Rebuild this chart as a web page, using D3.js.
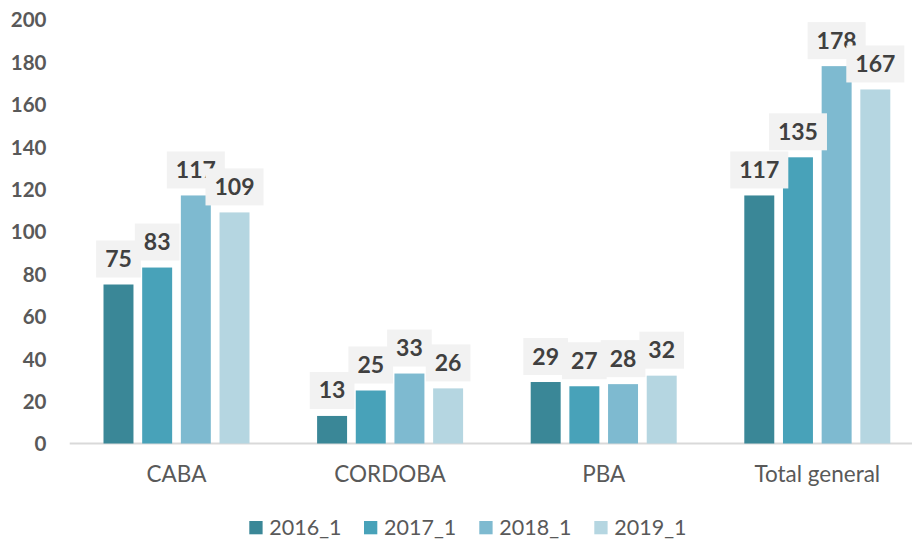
<!doctype html>
<html>
<head>
<meta charset="utf-8">
<title>chart</title>
<script src="https://cdn.jsdelivr.net/npm/d3@7"></script>
<style>
  body { margin: 0; background: #fff; }
  text { font-family: Lato, "Open Sans", sans-serif; }
</style>
</head>
<body>
<script>
// categories and series
const categories = ["CABA", "CORDOBA", "PBA", "Total general"];
const seriesNames = ["2016_1", "2017_1", "2018_1", "2019_1"];
const v2016 = [75, 13, 29, 117];
const v2017 = [83, 25, 27, 135];
const v2018 = [117, 33, 28, 178];
const v2019 = [109, 26, 32, 167];
const seriesValues = [v2016, v2017, v2018, v2019];
const yTicks = [0, 20, 40, 60, 80, 100, 120, 140, 160, 180, 200];
const colors = ["#3a8797", "#48a2b9", "#7ebad0", "#b5d6e1"];

const w = 912, h = 539;

const svg = d3.select("body").append("svg")
  .attr("width", w)
  .attr("height", h);

const x0 = d3.scaleBand()
  .domain(categories)
  .range([69.7, 924.1]);

const y = d3.scaleLinear()
  .domain([0, 200])
  .range([443.5, 19.5]);

// bars inside a group
const x1 = d3.scaleBand()
  .domain(seriesNames)
  .range([x0.bandwidth() / 2 - 73, x0.bandwidth() / 2 + 73])
  .paddingInner(0.225);

// y axis labels (no line)
const yAxis = svg.append("g")
  .attr("transform", "translate(46.5,0)")
  .call(d3.axisLeft(y).tickValues(yTicks).tickSize(0).tickPadding(0));
yAxis.select(".domain").remove();
yAxis.selectAll("text")
  .attr("fill", "#595959")
  .style("font-size", "20.5px")
  .style("font-weight", "bold")
  .attr("dy", "0.36em");

// x axis
const xAxis = svg.append("g")
  .attr("transform", "translate(0,443.5)")
  .call(d3.axisBottom(x0).tickSize(0).tickPadding(0));
xAxis.select(".domain").remove();
xAxis.append("line")
  .attr("x1", 69.7).attr("x2", w)
  .attr("y1", 0).attr("y2", 0)
  .attr("stroke", "#d9d9d9")
  .attr("stroke-width", 2);
xAxis.selectAll("text")
  .attr("fill", "#595959")
  .attr("y", 38.5)
  .attr("dy", 0)
  .style("font-size", "22.5px");

const rows = [];
seriesValues.forEach((vals, s) => {
  vals.forEach((v, c) => rows.push({ s: seriesNames[s], si: s, cat: categories[c], v: v }));
});

// bars
svg.append("g").selectAll("rect")
  .data(rows)
  .enter()
  .append("rect")
  .attr("x", d => x0(d.cat) + x1(d.s))
  .attr("y", d => y(d.v))
  .attr("width", x1.bandwidth())
  .attr("height", d => y(0) - y(d.v))
  .attr("fill", d => colors[d.si]);

// data labels with grey boxes, later series on top
const labels = svg.append("g");
rows.forEach(d => {
  const cx = x0(d.cat) + x1(d.s) + x1.bandwidth() / 2;
  const bottom = y(d.v) - 7;
  const g = labels.append("g");
  const box = g.append("rect").attr("fill", "#f2f2f2");
  const t = g.append("text")
    .attr("x", cx)
    .attr("y", bottom - 18.5 + 8)
    .attr("text-anchor", "middle")
    .attr("fill", "#404040")
    .style("font-size", "23px")
    .style("font-weight", "bold")
    .text(d.v);
  const tw = t.node().getComputedTextLength();
  box.attr("x", cx - tw / 2 - 9)
    .attr("y", bottom - 37)
    .attr("width", tw + 18)
    .attr("height", 37);
});

// legend
const legendX = [249.3, 364, 479.3, 594.3];
const legend = svg.append("g");
seriesNames.forEach((n, i) => {
  legend.append("rect")
    .attr("x", legendX[i]).attr("y", 521)
    .attr("width", 13.3).attr("height", 13.3)
    .attr("fill", colors[i]);
  legend.append("text")
    .attr("x", legendX[i] + 20)
    .attr("y", 535)
    .attr("fill", "#595959")
    .style("font-size", "21.5px")
    .text(n);
});
</script>
</body>
</html>
